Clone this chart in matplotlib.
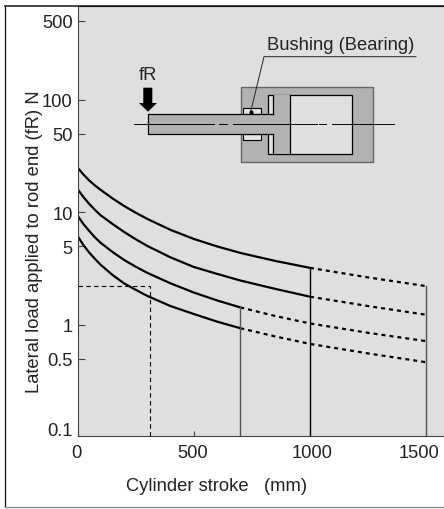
import matplotlib
matplotlib.use('Agg')
import matplotlib.pyplot as plt
from matplotlib.patches import Polygon, Rectangle
from matplotlib.ticker import NullLocator

plt.rcParams['font.family'] = ['Liberation Sans', 'DejaVu Sans']

# solid part of the curves
solid_x = [0, 25, 50, 75, 100, 150, 200, 250, 300, 400, 500, 600, 700, 850, 1000]
curve_a = [25.0, 21.7, 19.2, 17.3, 15.8, 13.3, 11.4, 9.92, 8.74, 6.98, 5.80, 4.98, 4.36, 3.70, 3.21]
curve_b = [16.1, 13.7, 11.9, 10.5, 9.39, 7.89, 6.70, 5.77, 5.03, 3.98, 3.27, 2.84, 2.48, 2.09, 1.78]
short_x = [0, 25, 50, 75, 100, 150, 200, 250, 300, 400, 500, 600, 700]
curve_c = [9.35, 7.89, 6.84, 5.99, 5.35, 4.45, 3.78, 3.29, 2.90, 2.34, 1.94, 1.65, 1.43]
curve_d = [6.17, 5.13, 4.40, 3.86, 3.41, 2.78, 2.34, 2.05, 1.81, 1.47, 1.25, 1.07, 0.935]

# dotted part
dot_ab_x = [1000, 1250, 1500]
dot_a = [3.21, 2.64, 2.21]
dot_b = [1.78, 1.47, 1.23]
dot_cd_x = [700, 850, 1000, 1250, 1500]
dot_c = [1.43, 1.20, 1.03, 0.85, 0.717]
dot_d = [0.935, 0.79, 0.678, 0.558, 0.466]

# example reading and stroke limits
guide_x = 312
guide_y = 2.2
limit_x = [700, 1000, 1500]
limit_top = [1.43, 3.21, 2.21]
limit_col = ['#555555', '#000000', '#555555']

x_ticks = [0, 500, 1000, 1500]
y_ticks = [0.5, 1, 5, 10, 50, 100, 500]
y_labels = ['0.5', '1', '5', '10', '50', '100', '500']

BG = '#dfdfdf'
TXT = '#222222'
FS = 13.2
W, H = 444, 510

fig = plt.figure(figsize=(W / 100, H / 100), dpi=100, facecolor='white')
ax = fig.add_axes([77.5 / W, (H - 436.5) / H, (W - 77.5) / W, (436.5 - 7) / H], facecolor=BG)
ax.set_yscale('log')
ax.set_xlim(0, 366.5 / 0.2325)
ax.set_ylim(0.1042, 679)

for xs, ys in [(solid_x, curve_a), (solid_x, curve_b), (short_x, curve_c), (short_x, curve_d)]:
    ax.plot(xs, ys, color='black', lw=1.6, solid_capstyle='butt')
for xs, ys in [(dot_ab_x, dot_a), (dot_ab_x, dot_b), (dot_cd_x, dot_c), (dot_cd_x, dot_d)]:
    ax.plot(xs, ys, color='black', lw=1.6, linestyle=(0, (1.8, 1.8)))

for x, top, col in zip(limit_x, limit_top, limit_col):
    ax.plot([x, x], [0.1042, top], color=col, lw=1.0)

ax.plot([0, guide_x], [guide_y, guide_y], color='black', lw=0.8, linestyle=(0, (4, 3)))
ax.plot([guide_x, guide_x], [0.1042, guide_y], color='black', lw=0.8, linestyle=(0, (4, 3)))

ax.spines['right'].set_visible(False)
ax.spines['top'].set_color('#111111')
ax.spines['left'].set_color('#444444')
ax.spines['bottom'].set_color('#444444')

ax.set_xticks(x_ticks)
ax.set_xticklabels([])
ax.set_yticks(y_ticks)
ax.set_yticklabels(y_labels, fontsize=FS, color=TXT)
ax.yaxis.set_minor_locator(NullLocator())
ax.tick_params(axis='y', direction='in', length=5, width=0.8, color='#444444', pad=3.5)
ax.tick_params(axis='x', direction='in', length=3.5, width=0.8, color='#444444')

# overlay in pixel coords: frame, tick labels that sit off their ticks, cylinder sketch
ov = fig.add_axes([0, 0, 1, 1], facecolor='none')
ov.set_xlim(0, W)
ov.set_ylim(H, 0)
ov.axis('off')

ov.plot([4.5, 4.5], [7, 508], color='#111111', lw=0.9)
ov.plot([4.5, W], [7, 7], color='#111111', lw=1.1)
ov.plot([4.5, W], [508, 508], color='#888888', lw=0.9)

ov.text(72.7, 431.6, '0.1', ha='right', va='center', fontsize=FS, color=TXT)
for lab, px in zip(x_ticks, [76, 193, 312, 419]):
    ov.text(px, 454, str(lab), ha='center', va='center', fontsize=FS, color=TXT)
ov.text(217, 487, 'Cylinder stroke   (mm)', ha='center', va='center', fontsize=FS, color=TXT)
ov.text(34.5, 242, 'Lateral load applied to rod end (fR) N', rotation=90,
        ha='center', va='center', fontsize=FS, color=TXT)

gray = '#b2b2b2'
ov.add_patch(Rectangle((240.7, 88), 132.3, 74.7, fc=gray, ec='#666666', lw=1.0))
ov.add_patch(Rectangle((268.3, 95.7), 84, 59.6, fc=BG, ec='black', lw=0.9))
ov.add_patch(Rectangle((272.7, 95.7), 17, 59.6, fc=gray, ec='none'))
ov.plot([289.7, 289.7], [95.7, 155.3], color='black', lw=0.9)
ov.plot([272.7, 272.7], [95.7, 115.3], color='black', lw=0.9)
ov.plot([272.7, 272.7], [135.3, 155.3], color='black', lw=0.9)
ov.add_patch(Rectangle((243, 109.3), 17.7, 6, fc='#e6e6e6', ec='black', lw=0.8))
ov.add_patch(Rectangle((243, 135.3), 17.7, 6, fc='#e6e6e6', ec='black', lw=0.8))
ov.add_patch(Rectangle((147.7, 115.3), 125, 20, fc=gray, ec='none'))
ov.plot([272.7, 147.7, 147.7, 272.7], [115.3, 115.3, 135.3, 135.3], color='black', lw=0.9)

for x0, x1 in [(134.3, 214), (219, 227), (233, 317), (319, 326), (332, 394)]:
    ov.plot([x0, x1], [125.3, 125.3], color='black', lw=0.7)

ov.plot([416, 264, 250.7], [57.7, 57.7, 112.7], color='#222222', lw=0.7)
ov.plot([250.7], [112.7], marker='o', ms=2, color='black')
ov.text(341, 45, 'Bushing (Bearing)', ha='center', va='center', fontsize=FS, color=TXT)

ov.add_patch(Polygon([(143.3, 88.7), (152.3, 88.7), (152.3, 104), (157, 104), (148, 112.7),
                      (139, 104), (143.3, 104)], fc='black', ec='none'))
ov.text(148, 76, 'fR', ha='center', va='center', fontsize=FS, color=TXT)

fig.savefig('out.png', dpi=100)
